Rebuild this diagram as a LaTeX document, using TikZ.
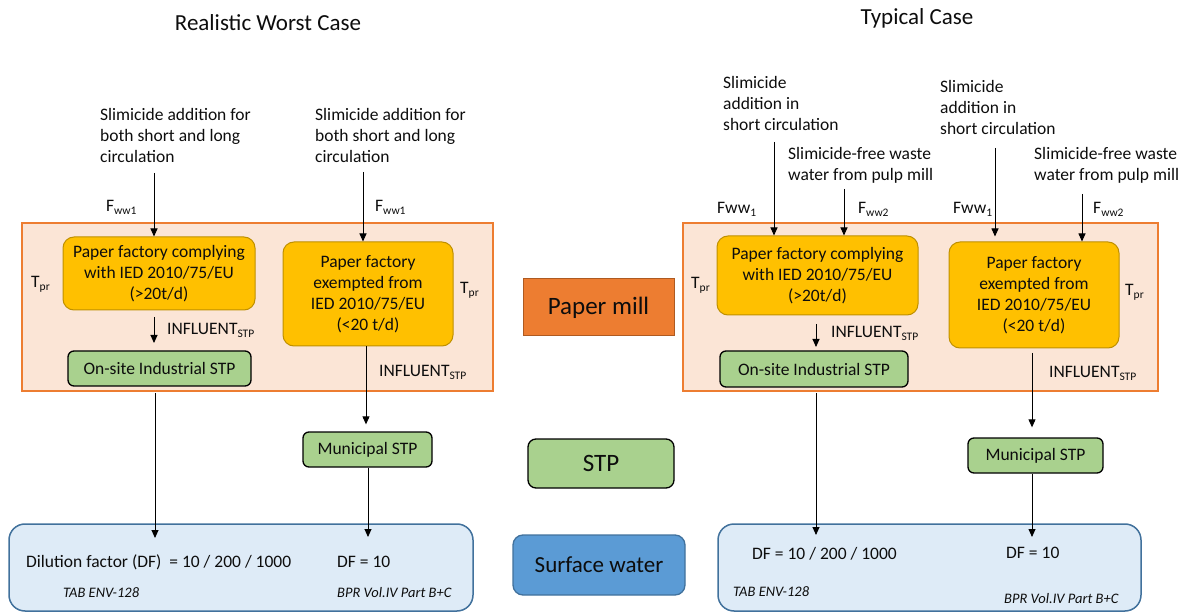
\documentclass[tikz,border=0pt]{standalone}
\usepackage{fontspec}
\setmainfont{Carlito}
\usetikzlibrary{arrows.meta,calc}
\definecolor{peach}{HTML}{FBE5D6}
\definecolor{orangeb}{HTML}{ED7D31}
\definecolor{odark}{HTML}{AE5A21}
\definecolor{yfill}{HTML}{FFC000}
\definecolor{ybord}{HTML}{BF9000}
\definecolor{gfill}{HTML}{A9D18E}
\definecolor{bfill}{HTML}{DEEBF7}
\definecolor{bbord}{HTML}{41719C}
\definecolor{bmid}{HTML}{5B9BD5}
\definecolor{txt}{HTML}{0D0D0D}
\newcommand\fbody{\fontsize{17.5}{21}\selectfont}
\newcommand\fsmall{\fontsize{14.5}{17}\selectfont}
\newcommand\fbig{\fontsize{25}{30}\selectfont}
\newcommand\ftitle{\fontsize{23}{28}\selectfont}
\newcommand\sbs[1]{\raisebox{-0.35ex}{\fontsize{11.5}{12}\selectfont #1}}
\begin{document}
\begin{tikzpicture}[x=1pt,y=-1pt,
  arr/.style={-{Triangle[length=8pt,width=7pt]}, line width=0.9pt, draw=black},
  lbl/.style={inner sep=0pt, font=\fbody, align=left, text=txt},
  ital/.style={inner sep=0pt, font=\fsmall\itshape, text=txt},
  millbox/.style={draw=orangeb, fill=peach, line width=1.5pt, inner sep=0pt},
  ybox/.style={draw=ybord, fill=yfill, rounded corners=11pt, line width=1pt, inner sep=0pt, align=center, font=\fbody, text=txt},
  gbox/.style={draw=black, fill=gfill, rounded corners=6pt, line width=1.3pt, inner sep=0pt, font=\fbody, text=txt},
  wbox/.style={draw=bbord, fill=bfill, rounded corners=16pt, line width=1.5pt, inner sep=0pt},
  ]
\useasboundingbox (0,0) rectangle (1184,612);

% ---------- titles
\node[inner sep=0pt, font=\ftitle, text=txt] (t1) at (268,23) {Realistic Worst Case};
\node[inner sep=0pt, font=\ftitle, text=txt] (t2) at (917,18) {Typical Case};

% ---------- legend column
\node[draw=odark, fill=orangeb, line width=1pt, minimum width=151pt, minimum height=57pt, inner sep=0pt, font=\fbig, text=txt] (pmill) at (598.5,307.5) {Paper mill};
\node[draw=black, fill=gfill, rounded corners=8pt, line width=1.3pt, minimum width=146pt, minimum height=49pt, inner sep=0pt, font=\fbig, text=txt] (stp) at (601,463.5) {STP};
\node[draw=bbord, fill=bmid, rounded corners=10pt, line width=1.3pt, minimum width=172pt, minimum height=60pt, inner sep=0pt, font=\fontsize{23}{28}\selectfont, text=txt] (surf) at (599,565) {Surface water};

% ================= LEFT: Realistic worst case
\node[millbox, minimum width=471pt, minimum height=168pt] (pm1) at (257.5,307) {};
\node[wbox, minimum width=464pt, minimum height=87pt] (sw1) at (241,567.5) {};

\node[lbl, anchor=west] (sl1) at (100,135) {Slimicide addition for\\both short and long\\circulation};
\node[lbl, anchor=west] (sl2) at (315,135) {Slimicide addition for\\both short and long\\circulation};
\node[lbl, anchor=west] (f1) at (106,207) {F\sbs{ww1}};
\node[lbl, anchor=west] (f2) at (375,207) {F\sbs{ww1}};

\node[ybox, minimum width=192pt, minimum height=73pt] (y1) at (159,273.5) {Paper factory complying\\with IED 2010/75/EU\\(>20t/d)};
\node[ybox, minimum width=170pt, minimum height=104pt] (y2) at (368,294) {Paper factory\\exempted from\\IED 2010/75/EU\\(<20 t/d)};
\node[lbl, anchor=west] (tp1) at (31,284) {T\sbs{pr}};
\node[lbl, anchor=west] (tp2) at (460,290) {T\sbs{pr}};
\node[lbl, anchor=west] (in1) at (167,330) {INFLUENT\sbs{STP}};
\node[gbox, minimum width=183pt, minimum height=35pt] (g1) at (159.5,368.5) {On-site Industrial STP};
\node[lbl, anchor=west] (in2) at (379,372) {INFLUENT\sbs{STP}};
\node[gbox, minimum width=129pt, minimum height=35pt] (mu1) at (367.5,449.5) {Municipal STP};

\node[lbl, anchor=west] (df1) at (26,562) {Dilution factor (DF)\ \ = 10 / 200 / 1000};
\node[lbl, anchor=west] (df2) at (337,562) {DF = 10};
\node[ital, anchor=west] (tab1) at (63,593) {TAB ENV-128};
\node[ital, anchor=west] (bpr1) at (337,593) {BPR Vol.IV Part B+C};

\coordinate (a1s) at (154,173);
\coordinate (a2s) at (363,172);
\draw[arr] (a1s) -- (a1s |- y1.north);
\draw[arr] (a2s) -- (a2s |- y2.north);
\coordinate (i1s) at (154,317);
\coordinate (i1e) at (154,343);
\draw[arr] (i1s) -- (i1e);
\draw[arr] (y2.south -| 366,0) -- ([yshift=7pt]mu1.north -| 366,0);
\coordinate (l1s) at (155,393);
\coordinate (l1e) at (155,538);
\draw[arr] (l1s) -- (l1e);
\coordinate (m1e) at (368,537);
\draw[arr] (mu1.south -| m1e) -- (m1e);

% ================= RIGHT: Typical case
\node[millbox, minimum width=475pt, minimum height=168pt] (pm2) at (920.5,307) {};
\node[wbox, minimum width=423pt, minimum height=87pt] (sw2) at (929.5,567.5) {};

\node[lbl, anchor=west] (sl3) at (723,103) {Slimicide\\addition in\\short circulation};
\node[lbl, anchor=west] (sl4) at (940,107) {Slimicide\\addition in\\short circulation};
\node[lbl, anchor=west] (sf1) at (788,165) {Slimicide-free waste\\water from pulp mill};
\node[lbl, anchor=west] (sf2) at (1034,165) {Slimicide-free waste\\water from pulp mill};
\node[lbl, anchor=west] (fw1) at (717,209) {Fww\sbs{1}};
\node[lbl, anchor=west] (fw2) at (858,209) {F\sbs{ww2}};
\node[lbl, anchor=west] (fw3) at (953,209) {Fww\sbs{1}};
\node[lbl, anchor=west] (fw4) at (1093,209) {F\sbs{ww2}};

\node[ybox, minimum width=201pt, minimum height=79pt] (y3) at (817.5,275.5) {Paper factory complying\\with IED 2010/75/EU\\(>20t/d)};
\node[ybox, minimum width=170pt, minimum height=106pt] (y4) at (1034,295) {Paper factory\\exempted from\\IED 2010/75/EU\\(<20 t/d)};
\node[lbl, anchor=west] (tp3) at (691,285) {T\sbs{pr}};
\node[lbl, anchor=west] (tp4) at (1125,292) {T\sbs{pr}};
\node[lbl, anchor=west] (in3) at (831,333) {INFLUENT\sbs{STP}};
\node[gbox, minimum width=188pt, minimum height=36pt] (g2) at (814,369) {On-site Industrial STP};
\node[lbl, anchor=west] (in4) at (1049,373) {INFLUENT\sbs{STP}};
\node[gbox, minimum width=135pt, minimum height=35pt] (mu2) at (1035.5,455.5) {Municipal STP};

\node[lbl, anchor=west] (df3) at (752,554) {DF = 10 / 200 / 1000};
\node[lbl, anchor=west] (df4) at (1006,553) {DF = 10};
\node[ital, anchor=west] (tab2) at (733,592) {TAB ENV-128};
\node[ital, anchor=west] (bpr2) at (1004,599) {BPR Vol.IV Part B+C};

\coordinate (a3s) at (774,142);
\coordinate (a4s) at (844,189);
\coordinate (a5s) at (995,148);
\coordinate (a6s) at (1082,194);
\draw[arr] (a3s) -- (a3s |- y3.north);
\draw[arr] (a4s) -- (a4s |- y3.north);
\draw[arr] (a5s) -- ([yshift=5pt]a5s |- y4.north);
\draw[arr] (a6s) -- (a6s |- y4.north);
\coordinate (i3s) at (816,324);
\coordinate (i3e) at (816,347);
\draw[arr] (i3s) -- (i3e);
\coordinate (m2s) at (1032,353);
\draw[arr] (m2s) -- ([yshift=10pt]mu2.north -| m2s);
\coordinate (l2s) at (816,393);
\coordinate (l2e) at (816,535);
\draw[arr] (l2s) -- (l2e);
\coordinate (m2e) at (1032,537);
\draw[arr] (mu2.south -| m2e) -- (m2e);
\end{tikzpicture}
\end{document}
